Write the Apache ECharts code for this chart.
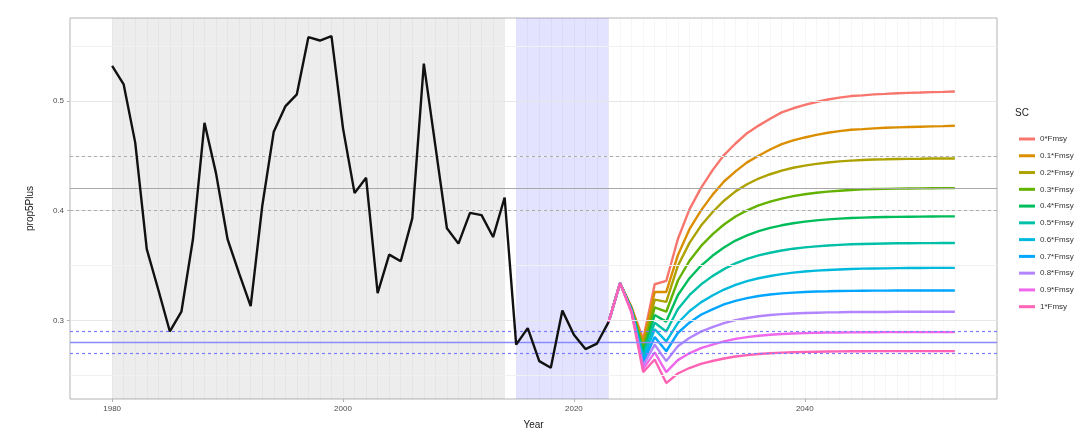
<!DOCTYPE html>
<html>
<head>
<meta charset="utf-8">
<script src="https://cdn.jsdelivr.net/npm/echarts@6/dist/echarts.min.js"></script>
<style>html,body{margin:0;padding:0;background:#fff}#c{width:1087px;height:436px}</style>
</head>
<body>
<div id="c"></div>
<script>
// ---- data ----
const histYears = [];
for (let y = 1980; y <= 2023; y++) histYears.push(y);
const histValues = [0.532,0.515,0.462,0.365,0.328,0.290,0.308,0.374,0.480,0.434,
  0.374,0.343,0.313,0.404,0.472,0.495,0.506,0.558,0.555,0.559,
  0.475,0.416,0.430,0.325,0.360,0.354,0.393,0.534,0.459,0.384,
  0.370,0.398,0.396,0.376,0.412,0.278,0.293,0.263,0.257,0.309,
  0.287,0.274,0.279,0.2985];

const projYears = [];
for (let y = 2023; y <= 2053; y++) projYears.push(y);

const scNames = ["0*Fmsy","0.1*Fmsy","0.2*Fmsy","0.3*Fmsy","0.4*Fmsy","0.5*Fmsy","0.6*Fmsy","0.7*Fmsy","0.8*Fmsy","0.9*Fmsy","1*Fmsy"];
const scColors = ["#F8766D","#DB8E00","#AEA200","#64B200","#00BD5C","#00C1A7","#00BADE","#00A6FF","#B385FF","#EF67EB","#FF63B6"];

const sc0  = [0.2985,0.334,0.312,0.283,0.333,0.336, 0.374,0.401,0.4205,0.4367,0.4507, 0.4612,0.4706,0.4775,0.4838,0.4895, 0.4933,0.4964,0.499,0.5013,0.503, 0.5044,0.505,0.5059,0.5064,0.507, 0.5073,0.5076,0.508,0.5082,0.5085];
const sc01 = [0.2985,0.334,0.3115,0.280,0.326,0.326, 0.3593,0.3829,0.4001,0.4144,0.4266, 0.4358,0.444,0.4501,0.4557,0.4607, 0.464,0.4667,0.469,0.471,0.4725, 0.4737,0.4743,0.475,0.4755,0.4759, 0.4762,0.4765,0.4768,0.477,0.4773];
const sc02 = [0.2985,0.334,0.311,0.277,0.319,0.317, 0.3497,0.3705,0.3862,0.3986,0.4091, 0.4176,0.4241,0.4293,0.4332,0.4365, 0.4391,0.4411,0.4426,0.4439,0.4449, 0.4456,0.4462,0.4466,0.4468,0.4471, 0.4472,0.4473,0.4475,0.4476,0.4476];
const sc03 = [0.2985,0.334,0.3105,0.274,0.312,0.308, 0.3362,0.3542,0.3677,0.3784,0.3874, 0.3947,0.4003,0.4048,0.4082,0.411, 0.4133,0.415,0.4163,0.4174,0.4182, 0.4189,0.4194,0.4197,0.4199,0.4201, 0.4202,0.4203,0.4205,0.4206,0.4206];
const sc04 = [0.2985,0.334,0.310,0.271,0.305,0.299, 0.323,0.3383,0.3498,0.3589,0.3665, 0.3728,0.3776,0.3814,0.3843,0.3867, 0.3886,0.39,0.3912,0.3921,0.3928, 0.3934,0.3937,0.394,0.3942,0.3944, 0.3945,0.3946,0.3947,0.3948,0.3948];
const sc05 = [0.2985,0.334,0.3095,0.268,0.298,0.290, 0.3102,0.323,0.3327,0.3404,0.3468, 0.3521,0.3561,0.3593,0.3617,0.3637, 0.3654,0.3666,0.3675,0.3683,0.3689, 0.3694,0.3697,0.3699,0.3701,0.3703, 0.3704,0.3705,0.3705,0.3706,0.3706];
const sc06 = [0.2985,0.334,0.309,0.265,0.292,0.281, 0.2977,0.3084,0.3165,0.3228,0.3282, 0.3325,0.3359,0.3385,0.3405,0.3422, 0.3436,0.3446,0.3454,0.346,0.3465, 0.3469,0.3472,0.3474,0.3475,0.3477, 0.3478,0.3478,0.3479,0.3479,0.3479];
const sc07 = [0.2985,0.334,0.3085,0.262,0.285,0.272, 0.2886,0.298,0.3052,0.3102,0.3146, 0.3179,0.3204,0.3223,0.3237,0.3247, 0.3254,0.326,0.3264,0.3266,0.3269, 0.327,0.3271,0.3272,0.3272,0.3273, 0.3273,0.3273,0.3273,0.3273,0.3273];
const sc08 = [0.2985,0.334,0.308,0.259,0.278,0.263, 0.2765,0.2841,0.2899,0.294,0.2976, 0.3003,0.3023,0.3039,0.305,0.3058, 0.3064,0.3068,0.3071,0.3074,0.3075, 0.3077,0.3077,0.3078,0.3078,0.3079, 0.3079,0.3079,0.3079,0.3079,0.3079];
const sc09 = [0.2985,0.334,0.3075,0.256,0.271,0.253, 0.2639,0.2701,0.2748,0.2781,0.281, 0.2832,0.2849,0.2861,0.287,0.2877, 0.2882,0.2885,0.2888,0.289,0.2891, 0.2892,0.2893,0.2893,0.2894,0.2894, 0.2894,0.2894,0.2894,0.2894,0.2894];
const sc10 = [0.2985,0.334,0.307,0.253,0.2645,0.243, 0.2517,0.2567,0.2605,0.2631,0.2654, 0.2672,0.2685,0.2695,0.2702,0.2707, 0.2711,0.2714,0.2716,0.2718,0.2719, 0.272,0.272,0.2721,0.2721,0.2721, 0.2721,0.2721,0.2721,0.2721,0.2721];
const scValues = [sc0,sc01,sc02,sc03,sc04,sc05,sc06,sc07,sc08,sc09,sc10];

const xTickLabels = [1980, 2000, 2020, 2040];
const yTickLabels = [0.3, 0.4, 0.5];
const yMinorGrid = [0.25, 0.35, 0.45, 0.55];
const greyBand = [1980, 2014];
const blueBand = [2015, 2023];
const greyRefMid = [0.422];
const greyRefBounds = [0.3955, 0.4473];
const blueRefMid = [0.2818];
const blueRefBounds = [0.2718, 0.2936];
const yearGrid = [];
for (let y = 1980; y <= 2053; y++) yearGrid.push(y);

// ---- chart ----
const FONT = "Liberation Sans, Arial, sans-serif";
const chart = echarts.init(document.getElementById('c'), null, {renderer: 'canvas'});

function refSeries(values, color, width, type, z) {
  const ls = {color: color, width: width, type: type, opacity: 1};
  return {
    type: 'line', data: [], z: z, silent: true, color: color,
    itemStyle: {color: color},
    lineStyle: {color: color},
    markLine: {
      silent: true, symbol: 'none', label: {show: false},
      lineStyle: ls,
      emphasis: {disabled: true, lineStyle: ls},
      data: values.map(v => ({yAxis: v, lineStyle: ls}))
    }
  };
}

const series = [];
// shading
series.push({
  type: 'line', data: [], z: 1, silent: true,
  markArea: {
    silent: true,
    data: [
      [{xAxis: greyBand[0], itemStyle: {color: 'rgba(128,128,128,0.14)'}}, {xAxis: greyBand[1]}],
      [{xAxis: blueBand[0], itemStyle: {color: 'rgba(40,40,255,0.13)'}}, {xAxis: blueBand[1]}]
    ]
  }
});
// grid lines
series.push({
  type: 'line', data: [], z: 2, silent: true,
  markLine: {
    silent: true, symbol: 'none', label: {show: false},
    lineStyle: {color: 'rgba(0,0,0,0.03)', width: 1, type: 'solid'},
    data: yearGrid.map(v => ({xAxis: v}))
  }
});
series.push(refSeries(yTickLabels, '#E6E6E6', 1, 'solid', 2));
series.push(refSeries(yMinorGrid, '#F1F1F1', 1, 'solid', 2));
// reference lines
series.push(refSeries(greyRefMid, '#A8A8A8', 1.2, 'solid', 3));
series.push(refSeries(greyRefBounds, '#ABABAB', 1, [3, 3], 3));
series.push(refSeries(blueRefMid, '#8A8AFF', 1.3, 'solid', 3));
series.push(refSeries(blueRefBounds, '#7C7CFF', 1.2, [3, 3], 3));
// projections
scNames.forEach((n, i) => {
  series.push({
    name: n, type: 'line', z: 4,
    data: projYears.map((y, k) => [y, scValues[i][k]]),
    showSymbol: false, symbol: 'none',
    lineStyle: {color: scColors[i], width: 2.4},
    itemStyle: {color: scColors[i]},
    emphasis: {disabled: true}
  });
});
// historical
series.push({
  name: 'hist', type: 'line', z: 6,
  data: histYears.map((y, k) => [y, histValues[k]]),
  showSymbol: false, symbol: 'none',
  lineStyle: {color: '#111', width: 2.4},
  emphasis: {disabled: true}
});

chart.setOption({
  animation: false,
  backgroundColor: '#fff',
  textStyle: {fontFamily: FONT},
  grid: {left: 70, right: 90, top: 18, bottom: 37, show: true, borderColor: '#B3B3B3', borderWidth: 1, backgroundColor: 'transparent'},
  xAxis: {
    type: 'value', min: 1976.35, max: 2056.65,
    name: 'Year', nameLocation: 'middle', nameGap: 21,
    nameTextStyle: {fontSize: 10, color: '#1a1a1a', fontFamily: FONT},
    axisLine: {show: false},
    axisTick: {show: true, length: 3, lineStyle: {color: '#B3B3B3'}, customValues: xTickLabels},
    axisLabel: {fontSize: 8, color: '#4D4D4D', margin: 6, fontFamily: FONT, customValues: xTickLabels, formatter: v => String(v)},
    splitLine: {show: false}
  },
  yAxis: {
    type: 'value', min: 0.2285, max: 0.5755,
    name: 'prop5Plus', nameLocation: 'middle', nameGap: 35, nameRotate: 90,
    nameTextStyle: {fontSize: 10, color: '#1a1a1a', fontFamily: FONT},
    axisLine: {show: false},
    axisTick: {show: true, length: 3, lineStyle: {color: '#B3B3B3'}, customValues: yTickLabels},
    axisLabel: {fontSize: 8, color: '#4D4D4D', margin: 6, fontFamily: FONT, customValues: yTickLabels, formatter: v => v.toFixed(1)},
    splitLine: {show: false}
  },
  legend: {
    data: scNames.map((n, i) => ({name: n, icon: 'rect', itemStyle: {color: scColors[i]}})),
    orient: 'vertical', left: 1014, top: 129,
    itemWidth: 16, itemHeight: 3, itemGap: 6.77,
    textStyle: {fontSize: 8, color: '#333', lineHeight: 10, fontFamily: FONT},
    selectedMode: false
  },
  graphic: [{
    type: 'text', left: 1015, top: 108,
    style: {text: 'SC', fontSize: 10, fill: '#1a1a1a', fontFamily: FONT}
  }],
  series: series
});
</script>
</body>
</html>
